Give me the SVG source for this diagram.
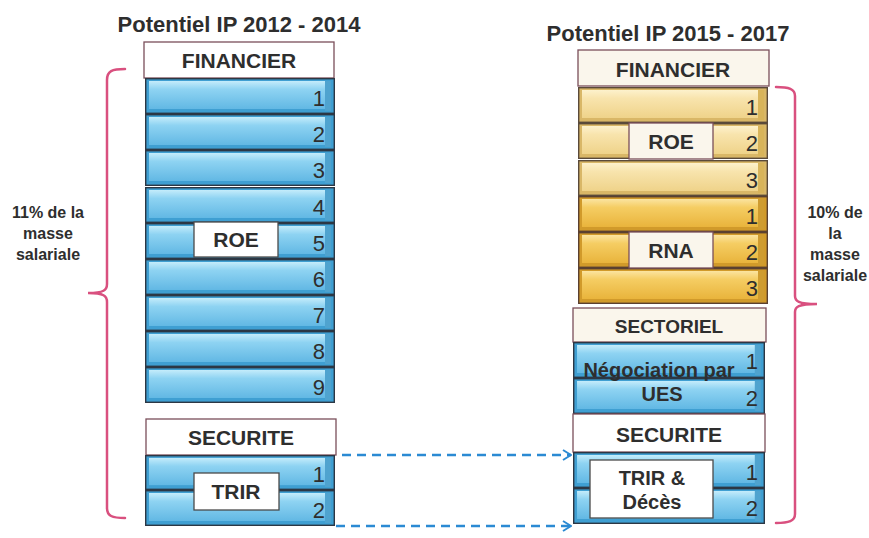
<svg xmlns="http://www.w3.org/2000/svg" xmlns:xlink="http://www.w3.org/1999/xlink" width="869" height="538" viewBox="0 0 869 538">
<style>
text{font-family:"Liberation Sans",Arial,sans-serif;fill:#2e2e2e}
.t{font-size:22px;font-weight:bold;text-anchor:middle}
.h{font-size:21px;font-weight:bold;text-anchor:middle}
.n{font-size:22px;text-anchor:end}
.lbl{font-size:16px;font-weight:bold;text-anchor:middle}
.hdr{fill:#ffffff;stroke:#7a4f5a;stroke-width:1.3}
.cream{fill:#faf6ec}
.box{fill:#ffffff;stroke:#4a4a4a;stroke-width:1.3}
.brace{fill:none;stroke:#d9507f;stroke-width:2.5;stroke-linecap:round}
.dash{fill:none;stroke:#2b8ad3;stroke-width:2.5;stroke-dasharray:9 6}
</style>
<defs>
<linearGradient id="gBlue" x1="0" y1="0" x2="0" y2="1">
<stop offset="0" stop-color="#c4ecfb"/><stop offset="0.3" stop-color="#8ed3f2"/><stop offset="1" stop-color="#62b8e4"/>
</linearGradient>
<linearGradient id="gGoldL" x1="0" y1="0" x2="0" y2="1">
<stop offset="0" stop-color="#fdf1cc"/><stop offset="0.3" stop-color="#f8e4ad"/><stop offset="1" stop-color="#efd38a"/>
</linearGradient>
<linearGradient id="gGoldD" x1="0" y1="0" x2="0" y2="1">
<stop offset="0" stop-color="#fbe4a0"/><stop offset="0.3" stop-color="#f5cd63"/><stop offset="1" stop-color="#e9b43c"/>
</linearGradient>
<symbol id="barBlue" viewBox="0 0 190 36" preserveAspectRatio="none">
<rect x="0.7" y="0.7" width="188.6" height="34.6" fill="#3f9fd2" stroke="#2c3744" stroke-width="1.4"/>
<rect x="4" y="3" width="176" height="28" fill="url(#gBlue)"/>
<rect x="180" y="3" width="6" height="30" fill="#4fa3cf"/>
</symbol>
<symbol id="barGoldL" viewBox="0 0 190 36" preserveAspectRatio="none">
<rect x="0.7" y="0.7" width="188.6" height="34.6" fill="#d9b767" stroke="#5a4a3a" stroke-width="1.4"/>
<rect x="4" y="3" width="176" height="28" fill="url(#gGoldL)"/>
<rect x="180" y="3" width="6" height="30" fill="#d8b45a"/>
</symbol>
<symbol id="barGoldD" viewBox="0 0 190 36" preserveAspectRatio="none">
<rect x="0.7" y="0.7" width="188.6" height="34.6" fill="#d19a2a" stroke="#5a4030" stroke-width="1.4"/>
<rect x="4" y="3" width="176" height="28" fill="url(#gGoldD)"/>
<rect x="180" y="3" width="6" height="30" fill="#cf9c30"/>
</symbol>
<marker id="chev" viewBox="0 0 10 12" refX="9" refY="6" markerWidth="10" markerHeight="12" markerUnits="userSpaceOnUse" orient="auto">
<path d="M1,1 L9,6 L1,11" fill="none" stroke="#2b8ad3" stroke-width="2"/>
</marker>
</defs>
<rect width="869" height="538" fill="#ffffff"/>

<g id="title-left"><text class="t" x="239" y="32">Potentiel IP 2012 - 2014</text></g>
<g id="title-right"><text class="t" x="668" y="41">Potentiel IP 2015 - 2017</text></g>

<g id="left-financier">
<rect class="hdr" x="144" y="42" width="190" height="36"/>
<text class="h" x="239" y="68">FINANCIER</text>
</g>
<g id="left-roe-bars">
<use xlink:href="#barBlue" x="145" y="78" width="190" height="36"/>
<use xlink:href="#barBlue" x="145" y="114" width="190" height="36"/>
<use xlink:href="#barBlue" x="145" y="150" width="190" height="36"/>
<use xlink:href="#barBlue" x="145" y="187" width="190" height="36"/>
<use xlink:href="#barBlue" x="145" y="223" width="190" height="36"/>
<use xlink:href="#barBlue" x="145" y="259" width="190" height="36"/>
<use xlink:href="#barBlue" x="145" y="295" width="190" height="36"/>
<use xlink:href="#barBlue" x="145" y="331" width="190" height="36"/>
<use xlink:href="#barBlue" x="145" y="367" width="190" height="36"/>
<text class="n" x="325" y="106">1</text>
<text class="n" x="325" y="142">2</text>
<text class="n" x="325" y="178">3</text>
<text class="n" x="325" y="215">4</text>
<text class="n" x="325" y="251">5</text>
<text class="n" x="325" y="287">6</text>
<text class="n" x="325" y="323">7</text>
<text class="n" x="325" y="359">8</text>
<text class="n" x="325" y="395">9</text>
</g>
<g id="left-roe-label">
<rect class="box" x="194" y="222" width="84" height="35"/>
<text class="h" x="236" y="247">ROE</text>
</g>
<g id="left-securite">
<rect class="hdr" x="146" y="419" width="190" height="36"/>
<text class="h" x="241" y="445">SECURITE</text>
</g>
<g id="left-trir-bars">
<use xlink:href="#barBlue" x="145" y="455" width="190" height="35"/>
<use xlink:href="#barBlue" x="145" y="490" width="190" height="36"/>
<text class="n" x="325" y="482">1</text>
<text class="n" x="325" y="518">2</text>
</g>
<g id="left-trir-label">
<rect class="box" x="194" y="473" width="85" height="37"/>
<text class="h" x="236" y="499">TRIR</text>
</g>
<g id="left-brace">
<path class="brace" d="M125,69 C112,69 107,71 107,80 L107,284 C107,290 104,293 88,293 C104,293 107,296 107,302 L107,508 C107,516 112,518 125,518"/>
<text class="lbl" x="48" y="218">11% de la</text>
<text class="lbl" x="48" y="239">masse</text>
<text class="lbl" x="48" y="260">salariale</text>
</g>

<g id="right-financier">
<rect class="hdr cream" x="578" y="50" width="191" height="36"/>
<text class="h" x="673" y="77">FINANCIER</text>
</g>
<g id="right-roe-bars">
<use xlink:href="#barGoldL" x="578" y="87" width="190" height="36"/>
<use xlink:href="#barGoldL" x="578" y="123" width="190" height="36"/>
<use xlink:href="#barGoldL" x="578" y="160" width="190" height="36"/>
<text class="n" x="758" y="115">1</text>
<text class="n" x="758" y="151">2</text>
<text class="n" x="758" y="188">3</text>
</g>
<g id="right-roe-label">
<rect class="hdr cream" x="629" y="123" width="84" height="36"/>
<text class="h" x="671" y="149">ROE</text>
</g>
<g id="right-rna-bars">
<use xlink:href="#barGoldD" x="578" y="196" width="190" height="36"/>
<use xlink:href="#barGoldD" x="578" y="232" width="190" height="36"/>
<use xlink:href="#barGoldD" x="578" y="268" width="190" height="36"/>
<text class="n" x="758" y="224">1</text>
<text class="n" x="758" y="260">2</text>
<text class="n" x="758" y="296">3</text>
</g>
<g id="right-rna-label">
<rect class="hdr cream" x="629" y="232" width="84" height="36"/>
<text class="h" x="671" y="258">RNA</text>
</g>
<g id="right-sectoriel">
<rect class="hdr cream" x="573" y="308" width="193" height="34"/>
<text class="h" x="669" y="333" style="font-size:19px">SECTORIEL</text>
</g>
<g id="right-ues-bars">
<use xlink:href="#barBlue" x="573" y="342" width="192" height="36"/>
<use xlink:href="#barBlue" x="573" y="378" width="192" height="36"/>
<text class="n" x="758" y="369">1</text>
<text class="n" x="758" y="406">2</text>
<text class="h" x="659" y="377" style="font-size:20px">Négociation par</text>
<text class="h" x="662" y="401" style="font-size:20px">UES</text>
</g>
<g id="right-securite">
<rect class="hdr" x="573" y="414" width="192" height="38"/>
<text class="h" x="669" y="442">SECURITE</text>
</g>
<g id="right-trir-bars">
<use xlink:href="#barBlue" x="573" y="452" width="192" height="36"/>
<use xlink:href="#barBlue" x="573" y="488" width="192" height="36"/>
<text class="n" x="758" y="480">1</text>
<text class="n" x="758" y="516">2</text>
</g>
<g id="right-trir-label">
<rect class="box" x="590" y="460" width="123" height="58"/>
<text class="h" x="652" y="485" style="font-size:20px">TRIR &amp;</text>
<text class="h" x="652" y="509" style="font-size:20px">Décès</text>
</g>
<g id="right-brace">
<path class="brace" d="M776,87 C789,87 795,89 795,96 L795,296 C795,301 798,304 817,304 C798,304 795,307 795,312 L795,514 C795,521 789,523 776,523"/>
<text class="lbl" x="835" y="218">10% de</text>
<text class="lbl" x="835" y="239">la</text>
<text class="lbl" x="835" y="260">masse</text>
<text class="lbl" x="835" y="281">salariale</text>
</g>

<g id="connectors">
<path class="dash" d="M342,455 L571,455" marker-end="url(#chev)"/>
<path class="dash" d="M336,526 L571,526" marker-end="url(#chev)"/>
</g>
</svg>
